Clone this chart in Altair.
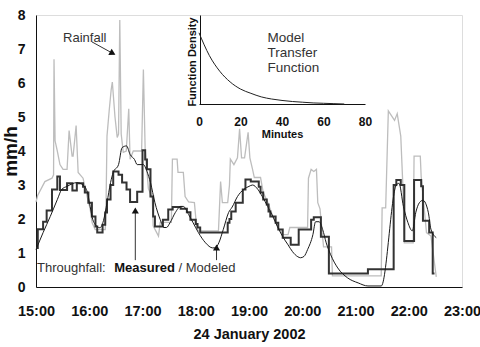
import altair as alt
import pandas as pd

FONT = "Liberation Sans"

# Rainfall intensity (mm/h); time in minutes after 15:00
rain_min = [0, 2, 10, 18, 19.8, 20.3, 21.5, 24, 27, 30.5,
            35, 37.3, 40.7, 41.8, 45.2, 47.5, 53, 57.6, 61, 63.3,
            66.7, 78, 79, 80, 82.5, 84.7, 86, 89, 91.5, 93,
            94.4, 96, 98.3, 101.7, 104.5, 106, 109.6, 119, 121, 123,
            126.6, 131, 132, 138, 140, 152.5, 153.7, 159, 160, 166,
            168, 172, 178.5, 181, 183, 205.6, 208, 210, 216, 218,
            219, 223, 227, 229.4, 231.6, 235, 239, 241, 244, 246,
            253, 256, 261, 267, 272, 278, 284, 286, 306, 307,
            310, 313, 316, 317.5, 320, 324, 333, 334, 389, 390,
            394, 397, 399, 404, 407, 411, 413.5, 415, 425, 426,
            433, 434, 440, 445, 451]
rain_mm = [2.5, 2.7, 3.1, 3.2, 3.3, 6.7, 4.3, 4.0, 3.6, 3.46,
           3.46, 4.6, 3.85, 3.85, 4.75, 3.37, 3.2, 2.66, 2.3, 1.89,
           1.69, 1.69, 2.57, 4.44, 5.2, 5.8, 6.03, 5.0, 4.4, 4.5,
           7.85, 4.5, 3.96, 4.0, 5.24, 3.76, 4.0, 4.0, 6.4, 4.05,
           2.9, 2.6, 1.8, 1.5, 1.9, 1.9, 3.76, 3.76, 3.37, 3.37,
           2.66, 2.5, 2.48, 1.75, 1.65, 1.65, 3.1, 2.48, 2.48, 3.0,
           3.76, 3.6, 3.8, 4.65, 3.8, 3.8, 4.55, 3.8, 3.46, 3.22,
           3.22, 2.78, 2.5, 2.07, 1.78, 1.54, 1.54, 1.75, 1.75, 3.2,
           3.46, 3.4, 3.46, 2.48, 2.3, 1.18, 1.18, 0.33, 0.33, 2.33,
           2.33, 5.18, 5.1, 4.9, 5.1, 4.44, 2.9, 1.3, 1.3, 3.85,
           3.85, 3.25, 1.6, 1.5, 0.3]

# Measured throughfall (mm/h), logged as steps
measured_min = [0, 2, 8, 12, 18, 24, 27, 35, 41, 46,
                53, 55, 59, 63, 67, 69, 75, 78, 80, 84,
                87, 93, 97, 102, 106, 114, 120, 123, 125, 129,
                132, 134, 143, 149, 154, 163, 170, 174, 180, 182,
                185, 216, 218, 220, 225, 233, 236, 242, 251, 253,
                256, 260, 262, 264, 270, 273, 278, 287, 296, 310,
                313, 321, 330, 374, 403, 406, 411, 415, 426, 434,
                436, 443, 447, 449]
measured_mm = [1.15, 1.7, 1.92, 2.25, 2.87, 3.25, 2.85, 3.05, 2.84, 3.05,
               2.95, 2.78, 2.48, 2.07, 1.78, 1.6, 1.83, 2.19, 2.57, 3.0,
               3.4, 3.3, 3.07, 2.87, 2.5, 2.8, 4.02, 3.75, 3.46, 2.66,
               2.07, 1.78, 1.98, 2.28, 2.35, 2.3, 2.2, 1.98, 1.85, 1.75,
               1.6, 1.89, 2.0, 2.22, 2.48, 2.87, 3.16, 3.1, 2.95, 2.78,
               2.57, 2.43, 2.22, 2.07, 1.89, 1.69, 1.45, 1.24, 1.69, 1.98,
               2.05, 1.48, 0.4, 0.52, 3.0, 3.15, 3.0, 1.35, 3.15, 2.96,
               1.95, 1.6, 0.4, 0.4]

# Modeled throughfall (mm/h)
modeled_min = [0, 8, 16, 24, 29, 35, 46, 53, 58, 61,
               64, 69, 72, 76, 80, 84, 87, 93, 97, 102,
               106, 111, 114, 121, 125, 129, 134, 140, 144, 147,
               151, 157, 163, 166, 172, 177, 183, 191, 199, 202,
               206, 211, 217, 221, 227, 234, 240, 244, 250, 255,
               261, 267, 272, 278, 284, 289, 295, 298, 302, 306,
               312, 315, 319, 323, 327, 332, 340, 351, 363, 374,
               389, 406, 409, 414, 419, 424, 428, 432, 436, 442,
               445, 451]
modeled_mm = [1.1, 1.6, 2.07, 2.57, 2.87, 2.96, 3.07, 3.0, 2.78, 2.37,
              1.98, 1.78, 1.74, 1.95, 2.48, 3.07, 3.37, 3.6, 4.1, 4.15,
              3.9, 3.75, 3.6, 3.6, 3.4, 3.07, 2.48, 1.98, 1.75, 1.75,
              1.89, 2.19, 2.37, 2.37, 2.13, 1.89, 1.6, 1.3, 1.15, 1.15,
              1.3, 1.69, 2.19, 2.35, 2.66, 2.87, 2.96, 3.0, 2.87, 2.66,
              2.37, 2.07, 1.78, 1.48, 1.24, 1.04, 0.89, 0.86, 0.9, 1.1,
              1.54, 1.92, 1.92, 1.69, 1.3, 0.95, 0.56, 0.27, 0.12, 0.03,
              0.03, 3.0, 3.05, 2.37, 1.9, 1.65, 2.2, 2.48, 2.55, 2.2,
              1.7, 1.45]

# Model transfer function (inset)
kernel_min = [0, 5, 10, 15, 20, 25, 30, 35, 40, 45, 50, 55, 60, 65, 70]
kernel_density = [1.0, 0.68, 0.46, 0.31, 0.21, 0.15, 0.10, 0.07, 0.05,
                  0.035, 0.025, 0.015, 0.01, 0.005, 0.0]

# Annotations (minutes after 15:00, mm/h)
note_text = ["Rainfall", "Throughfall:", "/ Modeled"]
note_min = [30.5, 1.1, 160.5]
note_mm = [7.21, 0.45, 0.45]
bold_text = ["Measured"]
bold_min = [88.1]
bold_mm = [0.45]

arrow_min = [63, 111.9, 203.4]
arrow_mm = [7.21, 0.79, 0.79]
arrow_min2 = [88, 111.9, 203.4]
arrow_mm2 = [6.85, 2.2, 1.15]
head_min = [86.4, 111.9, 203.4]
head_mm = [6.87, 2.25, 1.16]
head_angle = [118, 0, 0]

inset_note = ["Model\nTransfer\nFunction"]
inset_note_min = [33]
inset_note_density = [0.875]

rain_df = pd.DataFrame({"t": rain_min, "v": rain_mm})
meas_df = pd.DataFrame({"t": measured_min, "v": measured_mm})
model_df = pd.DataFrame({"t": modeled_min, "v": modeled_mm})
kern_df = pd.DataFrame({"k": kernel_min, "d": kernel_density})
note_df = pd.DataFrame({"t": note_min, "v": note_mm, "label": note_text})
bold_df = pd.DataFrame({"t": bold_min, "v": bold_mm, "label": bold_text})
arrow_df = pd.DataFrame({"t": arrow_min, "v": arrow_mm, "t2": arrow_min2, "v2": arrow_mm2})
head_df = pd.DataFrame({"t": head_min, "v": head_mm, "a": head_angle})
inote_df = pd.DataFrame({"k": inset_note_min, "d": inset_note_density, "label": inset_note})

xs = alt.Scale(domain=[0, 480], nice=False, zero=False)
ys = alt.Scale(domain=[0, 8], nice=False)

x_axis = alt.Axis(
    values=list(range(0, 481, 60)),
    labelExpr="(15 + datum.value / 60) + ':00'",
    title="24 January 2002", grid=False, ticks=False, tickSize=0,
    labelPadding=17, labelFont=FONT, labelFontSize=14.5, labelFontWeight="bold",
    labelColor="#111", labelFlush=False, labelOverlap=False,
    titleFont=FONT, titleFontSize=14.5, titleFontWeight="bold", titleColor="#111",
    titleBaseline="alphabetic", titleY=51,
    domainColor="#111", domainWidth=1,
)
y_axis = alt.Axis(
    values=list(range(0, 9)), format="d",
    title="mm/h", grid=False, ticks=False, tickSize=0,
    labelPadding=11, labelFont=FONT, labelFontSize=14, labelFontWeight="bold",
    labelColor="#111", labelFlush=False,
    titleFont=FONT, titleFontSize=19, titleFontWeight="bold", titleColor="#111",
    titleAngle=270, titleAlign="center", titleBaseline="alphabetic",
    titleX=-20, titleY=136,
    domainColor="#111", domainWidth=1,
)


def X(field="t"):
    return alt.X(f"{field}:Q", scale=xs, axis=x_axis)


def Y(field="v"):
    return alt.Y(f"{field}:Q", scale=ys, axis=y_axis)


rain = alt.Chart(rain_df).mark_line(color="#bdbdbd", strokeWidth=1.3).encode(x=X(), y=Y())
measured = alt.Chart(meas_df).mark_line(
    color="#333333", strokeWidth=2, interpolate="step-after"
).encode(x=X(), y=Y())
modeled = alt.Chart(model_df).mark_line(
    color="#1a1a1a", strokeWidth=1, interpolate="monotone"
).encode(x=X(), y=Y())

notes = alt.Chart(note_df).mark_text(
    align="left", baseline="alphabetic", font=FONT, fontSize=13, color="#333"
).encode(x=X(), y=Y(), text="label:N")
bold_notes = alt.Chart(bold_df).mark_text(
    align="left", baseline="alphabetic", font=FONT, fontSize=13,
    fontWeight="bold", color="#111"
).encode(x=X(), y=Y(), text="label:N")
arrows = alt.Chart(arrow_df).mark_rule(color="#333", strokeWidth=1).encode(
    x=X(), y=Y(), x2="t2:Q", y2="v2:Q"
)
heads = alt.Chart(head_df).mark_point(
    shape="triangle-up", filled=True, size=50, color="#111", opacity=1
).encode(x=X(), y=Y(), angle=alt.Angle("a:Q", scale=None))

main = alt.layer(rain, measured, modeled, arrows, heads, notes, bold_notes)

# Inset: transfer function drawn on its own scales in the upper middle of the plot
kx = alt.Scale(domain=[0, 80], range=[163, 329], nice=False, zero=False)
ky = alt.Scale(domain=[0, 1.25], range=[89, 0], nice=False)
kx_axis = alt.Axis(
    orient="bottom", offset=-183, values=[0, 20, 40, 60, 80], format="d",
    title="Minutes", grid=False, ticks=False, tickSize=0,
    labelPadding=12.5, labelFont=FONT, labelFontSize=12, labelFontWeight="bold",
    labelColor="#111", labelFlush=False,
    titleFont=FONT, titleFontSize=11, titleFontWeight="bold", titleColor="#111",
    titleBaseline="alphabetic", titleY=33,
    domainColor="#111", domainWidth=1,
)
ky_axis = alt.Axis(
    orient="left", offset=-164, labels=False, ticks=False, tickSize=0,
    title="Function Density", grid=False,
    titleFont=FONT, titleFontSize=11, titleFontWeight="bold", titleColor="#111",
    titleAngle=270, titleAlign="center", titleBaseline="alphabetic",
    titleX=-5, titleY=46.5,
    domainColor="#111", domainWidth=1,
)
kernel = alt.Chart(kern_df).mark_line(
    color="#222", strokeWidth=1, interpolate="monotone"
).encode(
    x=alt.X("k:Q", scale=kx, axis=kx_axis),
    y=alt.Y("d:Q", scale=ky, axis=ky_axis),
)
kernel_note = alt.Chart(inote_df).mark_text(
    align="left", baseline="alphabetic", font=FONT, fontSize=13.5,
    lineBreak="\n", lineHeight=15, color="#333"
).encode(
    x=alt.X("k:Q", scale=kx, axis=kx_axis),
    y=alt.Y("d:Q", scale=ky, axis=ky_axis),
    text="label:N",
)
inset = alt.layer(kernel, kernel_note)

chart = alt.layer(main, inset).resolve_scale(
    x="independent", y="independent"
).properties(
    width=426, height=272,
    autosize=alt.AutoSizeParams(type="none"),
    padding={"left": 36, "top": 15, "right": 18, "bottom": 60},
).configure_view(stroke=None).configure(background="white")

chart.save("out.html", embed_options={"renderer": "svg", "actions": False})
